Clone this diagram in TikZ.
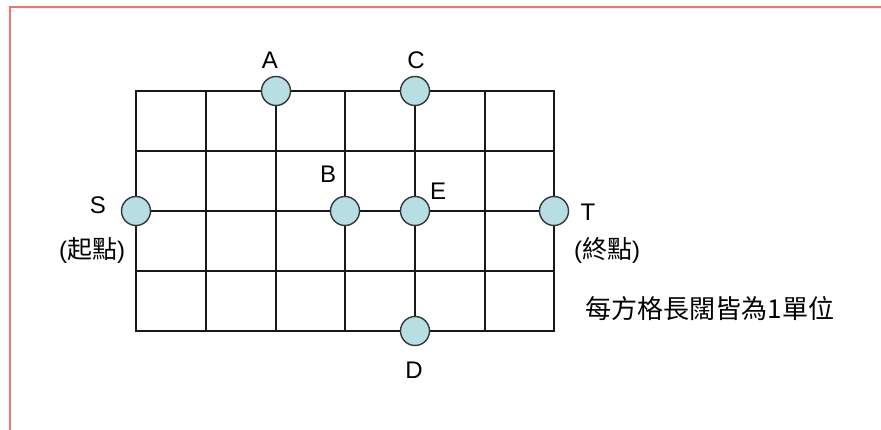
\documentclass[tikz,border=0pt]{standalone}
\usepackage{fontspec}
\setmainfont{Liberation Sans}
\newfontfamily\cjk{Noto Sans CJK TC}
\definecolor{frame}{RGB}{255,110,110}
\definecolor{dotfill}{RGB}{183,222,226}
\definecolor{dotline}{RGB}{55,55,55}
\begin{document}
\begin{tikzpicture}[x=1pt,y=-1pt,
  gridline/.style={line width=2pt,black!90},
  dot/.style={circle,draw=dotline,line width=1.4pt,fill=dotfill,minimum size=29pt,inner sep=0pt},
  lbl/.style={font=\fontsize{24}{28}\selectfont,inner sep=0pt,anchor=center},
  cjklbl/.style={font=\fontsize{24}{28}\selectfont,inner sep=0pt,anchor=center}]
\useasboundingbox (0,0) rectangle (881,430);
\fill[white] (0,0) rectangle (881,430);
% frame
\draw[frame,line width=2pt] (10,432) -- (10,7) -- (883,7);
% grid
\foreach \gx in {136,206,276,345,415,485,554} {
  \draw[gridline] (\gx,91) -- (\gx,331);
}
\foreach \gy in {91,151,211,271,331} {
  \draw[gridline] (135,\gy) -- (555,\gy);
}
% points
\node[dot] (A) at (276,91) {};
\node[dot] (C) at (415,91) {};
\node[dot] (S) at (136,211) {};
\node[dot] (B) at (345,211) {};
\node[dot] (E) at (415,211) {};
\node[dot] (T) at (554,211) {};
\node[dot] (D) at (415,331) {};
% labels
\node[lbl] (lA) at (270,60) {A};
\node[lbl] (lC) at (416,60) {C};
\node[lbl] (lS) at (98,205) {S};
\node[lbl] (lB) at (328,174) {B};
\node[lbl] (lE) at (438,191) {E};
\node[lbl] (lT) at (588,212) {T};
\node[lbl] (lD) at (414,370) {D};
\node[cjklbl] (start) at (92,250) {(\cjk\fontsize{25}{28}\selectfont 起點\normalfont\fontsize{24}{28}\selectfont)};
\node[cjklbl] (end) at (607,250) {(\cjk\fontsize{25}{28}\selectfont 終點\normalfont\fontsize{24}{28}\selectfont)};
\node[cjklbl] (note) at (710,309) {\cjk\fontsize{26}{30}\selectfont 每方格長闊皆為1單位};
\end{tikzpicture}
\end{document}
